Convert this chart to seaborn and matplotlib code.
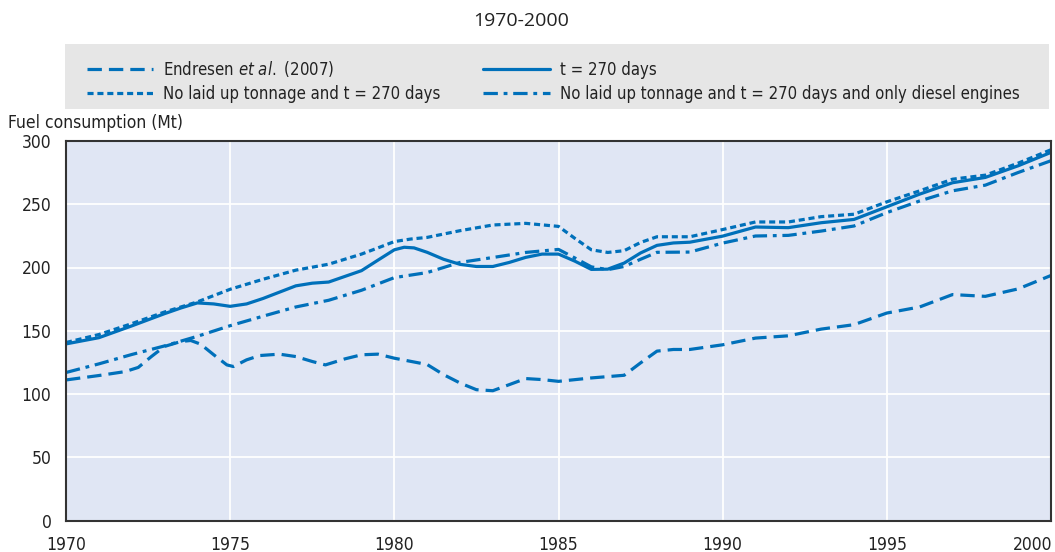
import pandas as pd
import matplotlib
matplotlib.use("Agg")
import matplotlib.pyplot as plt
from matplotlib.patches import Rectangle
from matplotlib.transforms import ScaledTranslation
import seaborn as sns

# Series (fuel consumption, Mt)
endresen_years = [1970, 1971, 1971.8, 1972.2, 1972.6, 1973, 1973.5, 1973.8, 1974.1, 1974.5, 1974.9,
                  1975.1, 1975.5, 1975.9, 1976.5, 1977, 1977.5, 1977.9, 1978.5, 1979, 1979.5, 1980,
                  1981, 1981.5, 1982, 1982.5, 1983, 1983.5, 1984, 1984.5, 1985, 1986, 1987, 1987.5,
                  1988, 1988.5, 1989, 1990, 1991, 1992, 1993, 1994, 1995, 1996, 1997, 1998, 1999, 2000]
endresen_values = [111.1, 114.6, 117.7, 121, 129.6, 137.6, 141.5, 142.3, 139.4, 131, 123,
                   121.7, 127, 130.4, 131.5, 129.6, 125.7, 123, 127.8, 131, 131.5, 128.3,
                   123.3, 115.3, 108.7, 103.4, 102.6, 107.4, 112.2, 111.4, 110, 112.7, 114.8, 124.6,
                   133.9, 135.2, 135.2, 138.9, 144.2, 146, 151.3, 154.8, 164, 168.8, 178.6, 177.2, 183.1, 193.7]

t270_years = [1970, 1971, 1972, 1973, 1973.5, 1974, 1974.5, 1975, 1975.5, 1976, 1977, 1977.5, 1978,
              1979, 1979.5, 1980, 1980.3, 1980.6, 1981, 1981.5, 1982, 1982.5, 1983, 1983.5, 1984,
              1984.5, 1985, 1985.5, 1986, 1986.5, 1987, 1987.5, 1988, 1988.5, 1989, 1990, 1991,
              1992, 1993, 1994, 1995, 1996, 1997, 1998, 1999, 2000]
t270_values = [139.6, 144.5, 153.8, 163.5, 168, 172, 171.2, 169.3, 171.2, 175.5, 185.5, 187.6, 188.5,
               197.5, 205.8, 214, 216, 215.5, 212, 206.5, 202.5, 200.8, 200.8, 204, 208,
               210.6, 210.6, 205, 198.5, 198.7, 203.5, 211.5, 217.5, 219.4, 220, 224.8, 232,
               231.5, 235.4, 238, 248, 258, 267, 271.2, 280.4, 291]

nolaid_years = [1970, 1971, 1972, 1973, 1974, 1975, 1976, 1977, 1978, 1979, 1979.5, 1980, 1980.5,
                1981, 1982, 1983, 1984, 1985, 1985.5, 1986, 1986.5, 1987, 1987.5, 1988, 1989,
                1990, 1991, 1992, 1993, 1994, 1995, 1996, 1997, 1998, 1999, 2000]
nolaid_values = [140.7, 147, 155.6, 164.8, 172.8, 182.8, 190.7, 197.9, 202.6, 210.6, 215.5, 220.5, 222.5,
                 223.8, 229.1, 233.6, 234.9, 232.5, 223, 214, 211.9, 213.3, 219.8, 224.3, 224.3,
                 230, 236, 236, 240.2, 242.1, 251.9, 260.6, 269.8, 273, 282.5, 293.1]

diesel_years = [1970, 1971, 1972, 1973, 1974, 1975, 1976, 1977, 1978, 1979, 1980, 1981, 1982, 1983,
                1984, 1985, 1985.5, 1986, 1986.5, 1987, 1987.5, 1988, 1989, 1990, 1991, 1992, 1993,
                1994, 1995, 1996, 1997, 1998, 1999, 2000]
diesel_values = [117, 123.8, 131.2, 138, 145.6, 154, 161.5, 168.8, 174.1, 182, 192, 196, 204, 207.9,
                 211.9, 214.3, 207.5, 200.5, 198.3, 200.8, 206.5, 212, 212.2, 219.3, 224.9, 225.4, 228.8,
                 232.8, 243.4, 252.6, 260.6, 265.1, 275.1, 284.4]

labels = ["Endresen $\\it{et\\ al.}$ (2007)", "t = 270 days",
          "No laid up tonnage and t = 270 days",
          "No laid up tonnage and t = 270 days and only diesel engines"]

x_ticks = [1970, 1975, 1980, 1985, 1990, 1995, 2000]
y_ticks = [0, 50, 100, 150, 200, 250, 300]

blue = "#0070BA"
W, H = 1055, 552

sns.set_theme(style="darkgrid")
plt.rcParams["font.family"] = ["DejaVu Sans"]
plt.rcParams["font.stretch"] = "condensed"
plt.rcParams["mathtext.fontset"] = "custom"
plt.rcParams["mathtext.it"] = "DejaVu Sans:style=italic:stretch=condensed"
plt.rcParams["mathtext.rm"] = "DejaVu Sans:stretch=condensed"

fig = plt.figure(figsize=(10.55, 5.52), dpi=100, facecolor="white")
ax = fig.add_axes([66 / W, (H - 520.5) / H, 985 / W, 379.5 / H])
ax.set_facecolor("#E0E6F4")

series = [
    (endresen_years, endresen_values, labels[0], (0, (4.5, 2.2))),
    (nolaid_years, nolaid_values, labels[2], (0, (1.9, 1.2))),
    (t270_years, t270_values, labels[1], "-"),
    (diesel_years, diesel_values, labels[3], (0, (4.5, 1.8, 1.2, 1.8))),
]
for yrs, vals, lab, ls in series:
    df = pd.DataFrame({"year": yrs, "value": vals})
    sns.lineplot(data=df, x="year", y="value", ax=ax, color=blue, linewidth=2.3,
                 linestyle=ls, label=lab, legend=False)

ax.set_xlim(1970, 2000)
ax.set_ylim(0, 300)
ax.set_xticks(x_ticks)
ax.set_yticks(y_ticks)
ax.set_xlabel("")
ax.set_ylabel("")
ax.grid(True, color="white", linewidth=1.3)
ax.tick_params(axis="both", direction="in", length=6, width=1, color="#555555",
               labelsize=12.5, labelcolor="#222222")
ax.tick_params(axis="x", pad=11)
ax.tick_params(axis="y", pad=10.5)
for s in ax.spines.values():
    s.set_visible(True)
    s.set_color("#333333")
    s.set_linewidth(1.5)

# the last year label sits a bit to the left so it stays inside the figure
last = ax.xaxis.get_major_ticks()[-1].label1
last.set_transform(last.get_transform() + ScaledTranslation(-0.18, 0, fig.dpi_scale_trans))

# grey band behind the legend
fig.patches.append(Rectangle((65 / W, 1 - 109 / H), 984 / W, 65 / H, transform=fig.transFigure,
                             facecolor="#E6E6E6", edgecolor="none", zorder=0))

handles, labs = ax.get_legend_handles_labels()
leg = fig.legend(handles, labs, loc="center", ncol=2, mode="expand",
                 bbox_to_anchor=(80 / W, 1 - 111 / H, 946 / W, 60 / H),
                 borderaxespad=0, frameon=False, fontsize=12, handlelength=4.0,
                 handletextpad=0.6, labelspacing=0.39, borderpad=0.4)
for t in leg.get_texts():
    t.set_color("#222222")

fig.text(8 / W, 1 - 123 / H, "Fuel consumption (Mt)", ha="left", va="center",
         fontsize=12.5, color="#222222")
fig.text(521 / W, 1 - 21 / H, "1970-2000", ha="center", va="center",
         fontsize=14, color="#222222", family="Open Sans", stretch="normal")

fig.savefig("out.png", dpi=100, facecolor="white")
